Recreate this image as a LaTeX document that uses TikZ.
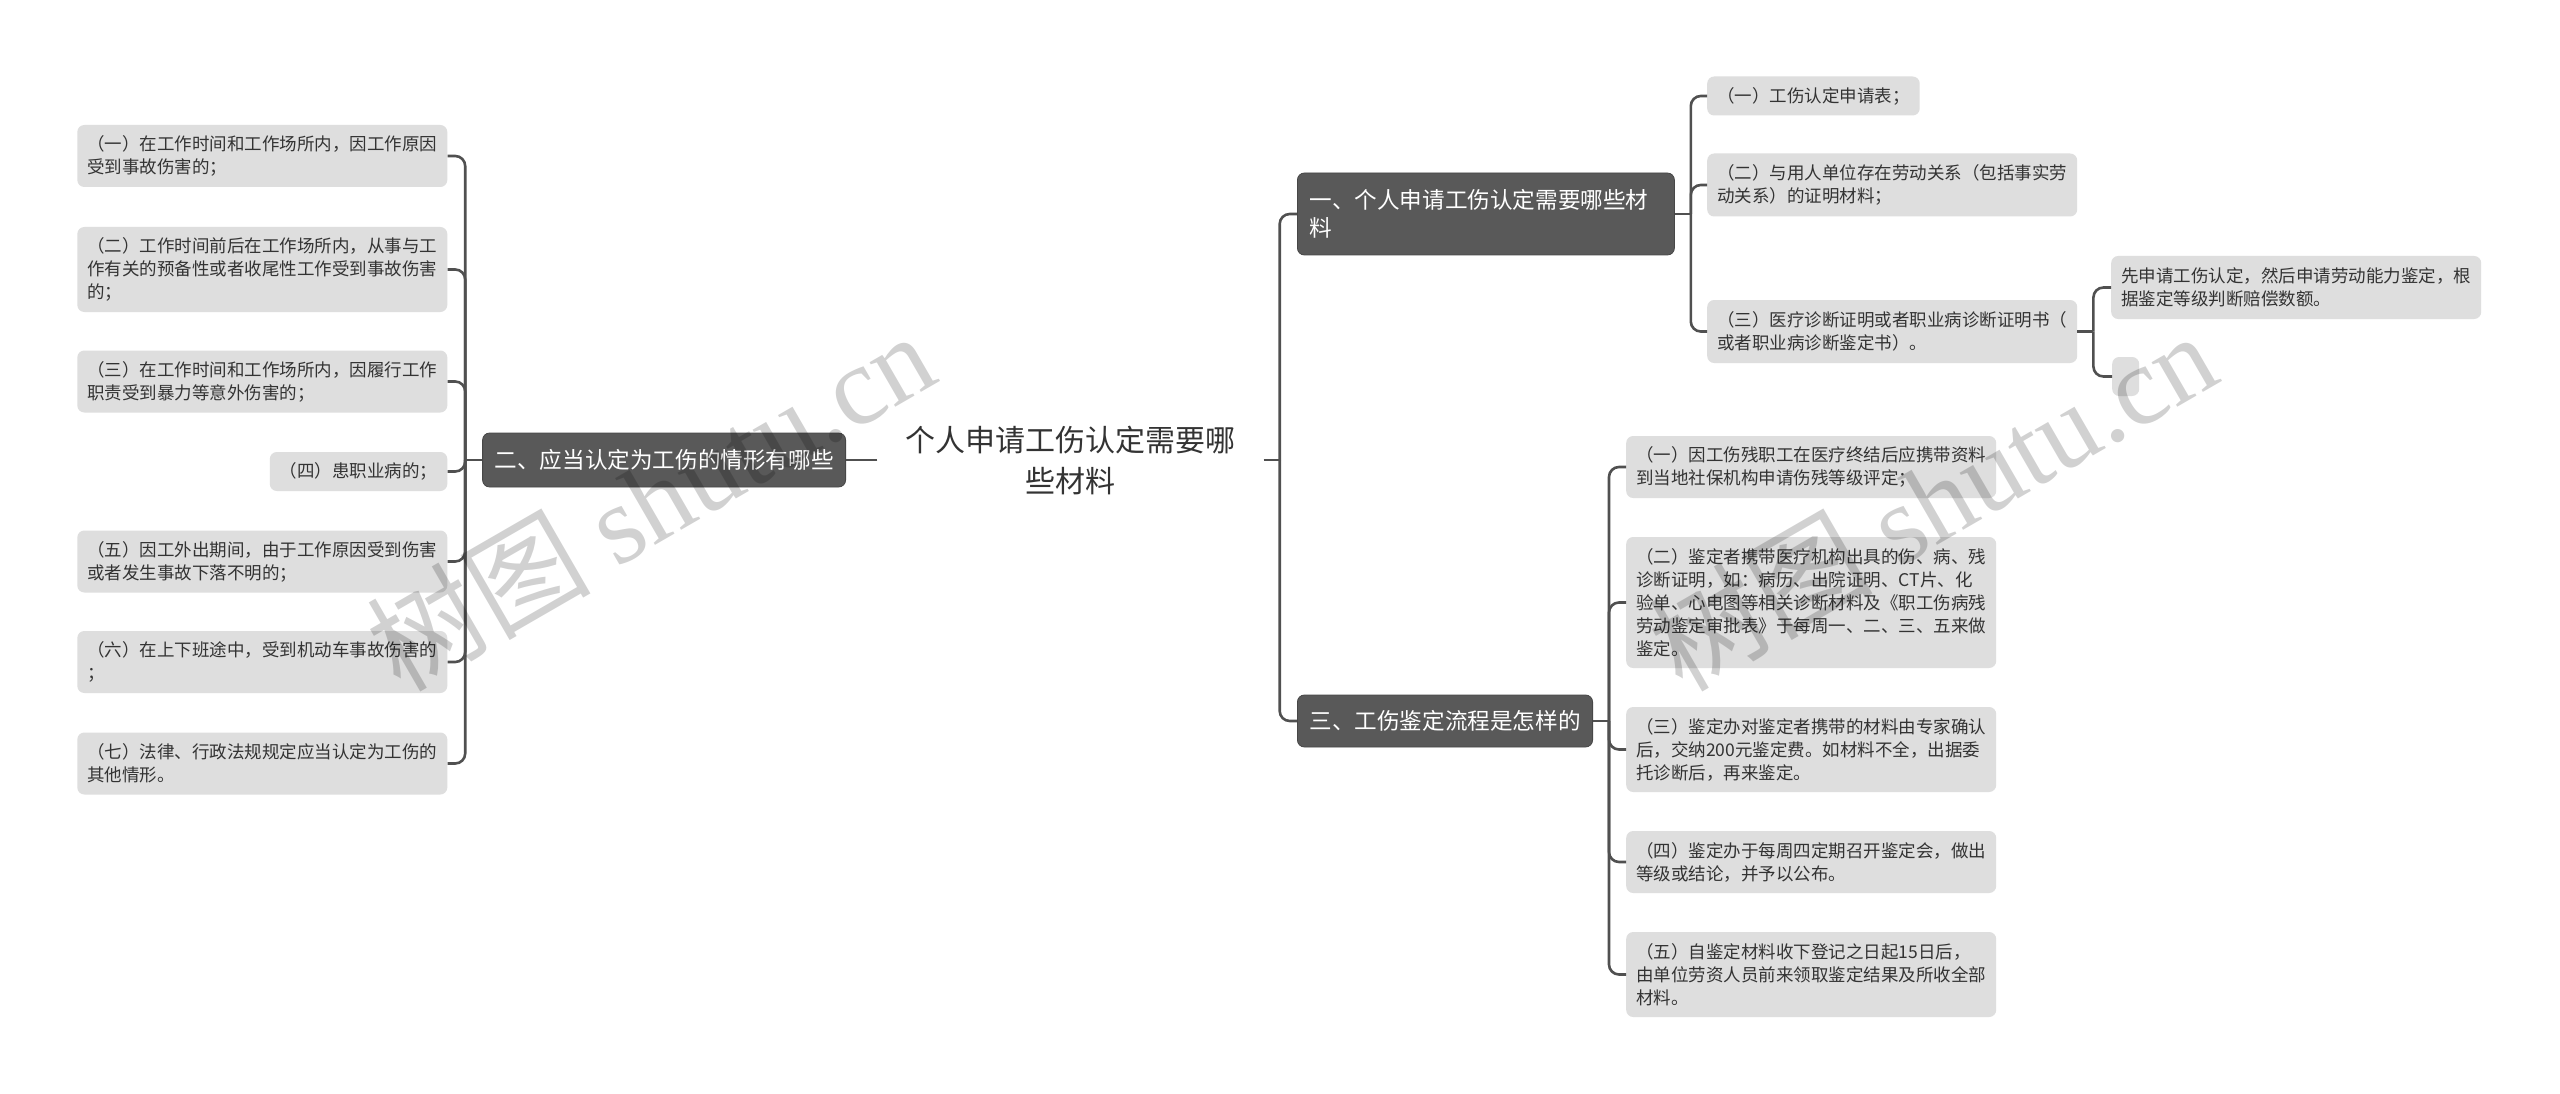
\documentclass[tikz,border=0pt]{standalone}
\usepackage{fontspec}
\setmainfont{Noto Sans CJK SC}
\newfontfamily\wmlatin{Liberation Serif}
\definecolor{leafgray}{HTML}{DEDEDE}
\definecolor{branchgray}{HTML}{595959}
\definecolor{linegray}{HTML}{505050}
\definecolor{txtgray}{HTML}{333333}
\begin{document}
\begin{tikzpicture}[x=1pt,y=-1pt,
  conn/.style={draw=linegray,line width=2.6pt,rounded corners=10pt},
  leaf/.style={rectangle,rounded corners=7pt,fill=leafgray,text=txtgray,
    align=left,inner xsep=10pt,inner ysep=0pt,
    font=\fontsize{17.5}{23}\selectfont},
  branch/.style={rectangle,rounded corners=7pt,fill=branchgray,draw=branchgray!80!black,
    line width=0.8pt,text=white,align=left,inner xsep=12pt,inner ysep=0pt,
    font=\fontsize{22.6}{28}\selectfont},
  rootnode/.style={align=center,inner xsep=28pt,text=txtgray,
    font=\fontsize{30}{41}\selectfont},
  wm/.style={text=black,opacity=0.18,font=\fontsize{112}{112}\selectfont}
]
\useasboundingbox (0,0) rectangle (2560,1094);
\fill[white] (0,0) rectangle (2560,1094);

% root
\node[rootnode] (root) at (1070.5,460) {个人申请工伤认定需要哪\\些材料};

% branches
\node[branch,anchor=east,minimum height=54pt] (b2) at (846,460) {二、应当认定为工伤的情形有哪些};
\node[branch,anchor=west,minimum height=82pt,text width=353pt] (b1) at (1297,214) {一、个人申请工伤认定需要哪些材\\料};
\node[branch,anchor=west,minimum height=52pt] (b3) at (1297,721) {三、工伤鉴定流程是怎样的};

% left leaves
\node[leaf,anchor=east,minimum height=62pt] (L1) at (447.5,156) {（一）在工作时间和工作场所内，因工作原因\\受到事故伤害的；};
\node[leaf,anchor=east,minimum height=85pt] (L2) at (447.5,269.5) {（二）工作时间前后在工作场所内，从事与工\\作有关的预备性或者收尾性工作受到事故伤害\\的；};
\node[leaf,anchor=east,minimum height=62pt] (L3) at (447.5,381.5) {（三）在工作时间和工作场所内，因履行工作\\职责受到暴力等意外伤害的；};
\node[leaf,anchor=east,minimum height=39pt] (L4) at (447.5,471.5) {（四）患职业病的；};
\node[leaf,anchor=east,minimum height=62pt] (L5) at (447.5,561.5) {（五）因工外出期间，由于工作原因受到伤害\\或者发生事故下落不明的；};
\node[leaf,anchor=east,minimum height=62pt] (L6) at (447.5,662) {（六）在上下班途中，受到机动车事故伤害的\\；};
\node[leaf,anchor=east,minimum height=62pt] (L7) at (447.5,763.5) {（七）法律、行政法规规定应当认定为工伤的\\其他情形。};

% right leaves of b1
\node[leaf,anchor=west,minimum height=39pt] (R11) at (1707,96) {（一）工伤认定申请表；};
\node[leaf,anchor=west,minimum height=63pt] (R12) at (1707,185) {（二）与用人单位存在劳动关系（包括事实劳\\动关系）的证明材料；};
\node[leaf,anchor=west,minimum height=63pt] (R13) at (1707,331.5) {（三）医疗诊断证明或者职业病诊断证明书（\\或者职业病诊断鉴定书）。};
\node[leaf,anchor=west,minimum height=63pt] (R131) at (2111,287.5) {先申请工伤认定，然后申请劳动能力鉴定，根\\据鉴定等级判断赔偿数额。};
\node[leaf,anchor=west,minimum height=39pt,minimum width=27pt,inner xsep=0pt] (R132) at (2112,376.5) {};

% right leaves of b3
\node[leaf,anchor=west,minimum height=62pt] (R31) at (1626,467) {（一）因工伤残职工在医疗终结后应携带资料\\到当地社保机构申请伤残等级评定；};
\node[leaf,anchor=west,minimum height=131pt] (R32) at (1626,602.5) {（二）鉴定者携带医疗机构出具的伤、病、残\\诊断证明，如：病历、出院证明、CT片、化\\验单、心电图等相关诊断材料及《职工伤病残\\劳动鉴定审批表》于每周一、二、三、五来做\\鉴定。};
\node[leaf,anchor=west,minimum height=85pt] (R33) at (1626,749.5) {（三）鉴定办对鉴定者携带的材料由专家确认\\后，交纳200元鉴定费。如材料不全，出据委\\托诊断后，再来鉴定。};
\node[leaf,anchor=west,minimum height=62pt] (R34) at (1626,862) {（四）鉴定办于每周四定期召开鉴定会，做出\\等级或结论，并予以公布。};
\node[leaf,anchor=west,minimum height=85pt] (R35) at (1626,974.5) {（五）自鉴定材料收下登记之日起15日后，\\由单位劳资人员前来领取鉴定结果及所收全部\\材料。};

% connectors: root
\draw[conn] (root.west) -- (b2.east);
\draw[conn] (root.east) -- ++(16,0) coordinate (rj);
\draw[conn] (rj) |- (b1.west);
\draw[conn] (rj) |- (b3.west);

% b2 -> left leaves
\draw[conn] (b2.west) -- ++(-17,0) coordinate (lj);
\foreach \n in {L1,L2,L3,L4,L5,L6,L7}{\draw[conn] (lj) |- (\n.east);}

% b1 -> leaves
\draw[conn] (b1.east) -- ++(16,0) coordinate (j1);
\foreach \n in {R11,R12,R13}{\draw[conn] (j1) |- (\n.west);}

% R13 -> children
\draw[conn] (R13.east) -- ++(16,0) coordinate (j13);
\foreach \n in {R131,R132}{\draw[conn] (j13) |- (\n.west);}

% b3 -> leaves
\draw[conn] (b3.east) -- ++(16,0) coordinate (j3);
\foreach \n in {R31,R32,R33,R34,R35}{\draw[conn] (j3) |- (\n.west);}

% watermarks
\node[wm,rotate=30] (wm1) at (650,500) {树图 {\wmlatin shutu.cn}};
\node[wm,rotate=30] (wm2) at (1932,500) {树图 {\wmlatin shutu.cn}};
\end{tikzpicture}
\end{document}
